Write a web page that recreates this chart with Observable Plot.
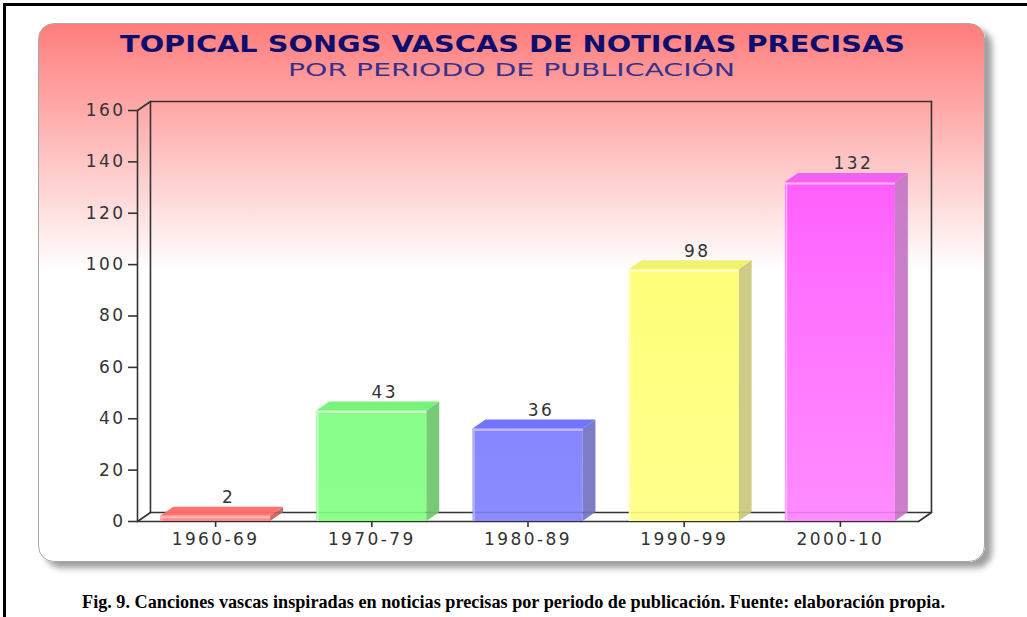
<!DOCTYPE html>
<html><head><meta charset="utf-8">
<script src="https://cdn.jsdelivr.net/npm/d3@7"></script>
<script src="https://cdn.jsdelivr.net/npm/@observablehq/plot@0.6"></script>
<style>
body{margin:0;background:#fff}
#page{position:relative;width:1027px;height:617px;overflow:hidden;background:#fff}
#frame{position:absolute;left:3px;top:3px;width:1100px;height:700px;border-left:3px solid #000;border-top:3px solid #000}
#panel{position:absolute;left:38px;top:23px;width:947px;height:539px;box-sizing:border-box;border:1px solid #a8a8a8;border-radius:16px;
 background:linear-gradient(to bottom,#ff7d7d 0%,#ffffff 46%,#ffffff 100%);box-shadow:7px 6px 6px rgba(0,0,0,0.38)}
#titles{position:absolute;left:0;top:0}
#chart{position:absolute;left:0;top:0}
#caption{position:absolute;left:0;top:592px;width:1027px;text-align:center;font:bold 18.2px "Liberation Serif","Times New Roman",serif;color:#000}
</style></head><body>
<div id="page">
 <div id="frame"></div>
 <div id="panel"></div>
 <svg id="titles" width="1027" height="90"></svg>
 <div id="chart"></div>
 <div id="caption"></div>
</div>
<script>
// ---- data ----
const categories = ["1960-69", "1970-79", "1980-89", "1990-99", "2000-10"];
const values = [2, 43, 36, 98, 132];
const yTicks = [0, 20, 40, 60, 80, 100, 120, 140, 160];
const frontColors = ["#ff8080", "#80ff80", "#8080ff", "#ffff80", "#ff80ff"];
const frontTopColors = ["#ff7a7a", "#7cff7c", "#7878ff", "#ffff6c", "#ff52ff"];
const sideColors = ["#c46060", "#6cc46c", "#7272c2", "#c8c87a", "#c674c6"];
const topColors = ["#ff6c6c", "#70f270", "#6c6cff", "#f0f068", "#f25af2"];
const lightColors = ["#ffb8b8", "#c8ffc8", "#b8b8ff", "#ffffc8", "#ffb8ff"];
const titleText = "TOPICAL SONGS VASCAS DE NOTICIAS PRECISAS";
const subtitleText = "POR PERIODO DE PUBLICACIÓN";
const captionText = "Fig. 9. Canciones vascas inspiradas en noticias precisas por periodo de publicación. Fuente: elaboración propia.";

// ---- titles ----
const ts = d3.select("#titles");
ts.append("text").attr("x", 120).attr("y", 52).attr("textLength", 785).attr("lengthAdjust", "spacingAndGlyphs")
  .attr("font-family", "DejaVu Sans").attr("font-weight", "bold").attr("font-size", 23).attr("fill", "#0e0e6c").text(titleText);
ts.append("text").attr("x", 288).attr("y", 76).attr("textLength", 447).attr("lengthAdjust", "spacingAndGlyphs")
  .attr("font-family", "DejaVu Sans").attr("font-size", 17.5).attr("fill", "#36308c").text(subtitleText);
document.getElementById("caption").textContent = captionText;

// ---- geometry (in data units) ----
const n = categories.length;
const yMax = d3.max(yTicks);
const DX = 0.083, DY = 3.5, HALF = 0.352;
const rows = categories.map((c, i) => ({c, i, v: values[i], xc: i + 0.5, xl: i + 0.5 - HALF, xr: i + 0.5 + HALF}));

const segs = [
  [[0, 0], [0, yMax]], [[DX, DY], [DX, yMax + DY]], [[0, yMax], [DX, yMax + DY]], [[0, 0], [DX, DY]],
  [[DX, yMax + DY], [n + DX, yMax + DY]], [[n + DX, DY], [n + DX, yMax + DY]], [[DX, DY], [n + DX, DY]],
  [[0, 0], [n, 0]], [[n, 0], [n + DX, DY]]
].flatMap((s, k) => s.map(([x, y]) => ({k, x, y})));

const gradients = () => {
  const defs = d3.create("svg:defs");
  rows.forEach(r => {
    const g = defs.append("linearGradient").attr("id", "bg" + r.i).attr("x1", 0).attr("x2", 0).attr("y1", 0).attr("y2", 1);
    g.append("stop").attr("offset", "0%").attr("stop-color", frontTopColors[r.i]);
    g.append("stop").attr("offset", "100%").attr("stop-color", frontColors[r.i]);
  });
  return defs.node();
};

const barMarks = rows.flatMap(r => {
  const side = [{x: r.xr, y1: 0, y2: r.v}, {x: r.xr + DX, y1: DY, y2: r.v + DY}];
  const top = [{y: r.v, x1: r.xl, x2: r.xr}, {y: r.v + DY, x1: r.xl + DX, x2: r.xr + DX}];
  return [
    Plot.areaY(side, {x: "x", y1: "y1", y2: "y2", fill: sideColors[r.i], fillOpacity: 0.92}),
    Plot.areaX(top, {y: "y", x1: "x1", x2: "x2", fill: topColors[r.i], fillOpacity: 0.95}),
    Plot.rect([r], {x1: "xl", x2: "xr", y1: 0, y2: "v", fill: `url(#bg${r.i})`, fillOpacity: 0.9}),
    Plot.ruleY([r], {y: "v", x1: "xl", x2: "xr", stroke: lightColors[r.i], strokeWidth: 2, dy: 1}),
    Plot.ruleX([r], {x: "xl", y1: 0, y2: "v", stroke: lightColors[r.i], strokeWidth: 1.5, dx: 1})
  ];
});

const plot = Plot.plot({
  width: 1027, height: 617,
  marginLeft: 137, marginRight: 109, marginTop: 110, marginBottom: 96,
  x: {domain: [0, n], label: null},
  y: {domain: [0, yMax], label: null},
  style: {background: "transparent", color: "#333", fontFamily: "DejaVu Sans", fontSize: "17px", letterSpacing: "2.4px", overflow: "visible"},
  marks: [
    gradients,
    Plot.line(segs, {x: "x", y: "y", z: "k", stroke: "#333", strokeWidth: 1.6}),
    ...barMarks,
    Plot.axisY({ticks: yTicks, tickSize: 9, tickPadding: 3, stroke: "#333", strokeWidth: 1.6, fill: "#333", label: null}),
    Plot.axisX({ticks: rows.map(r => r.xc), tickFormat: d => categories[Math.floor(d)], tickSize: 6, tickPadding: 5, stroke: "#333", strokeWidth: 1.6, fill: "#333", label: null}),
    Plot.text(rows, {x: r => r.xc + DX, y: r => r.v + DY, text: r => String(r.v), lineAnchor: "bottom", dy: -4, fill: "#333", fontSize: 17})
  ]
});
document.getElementById("chart").appendChild(plot);
</script>
</body></html>
